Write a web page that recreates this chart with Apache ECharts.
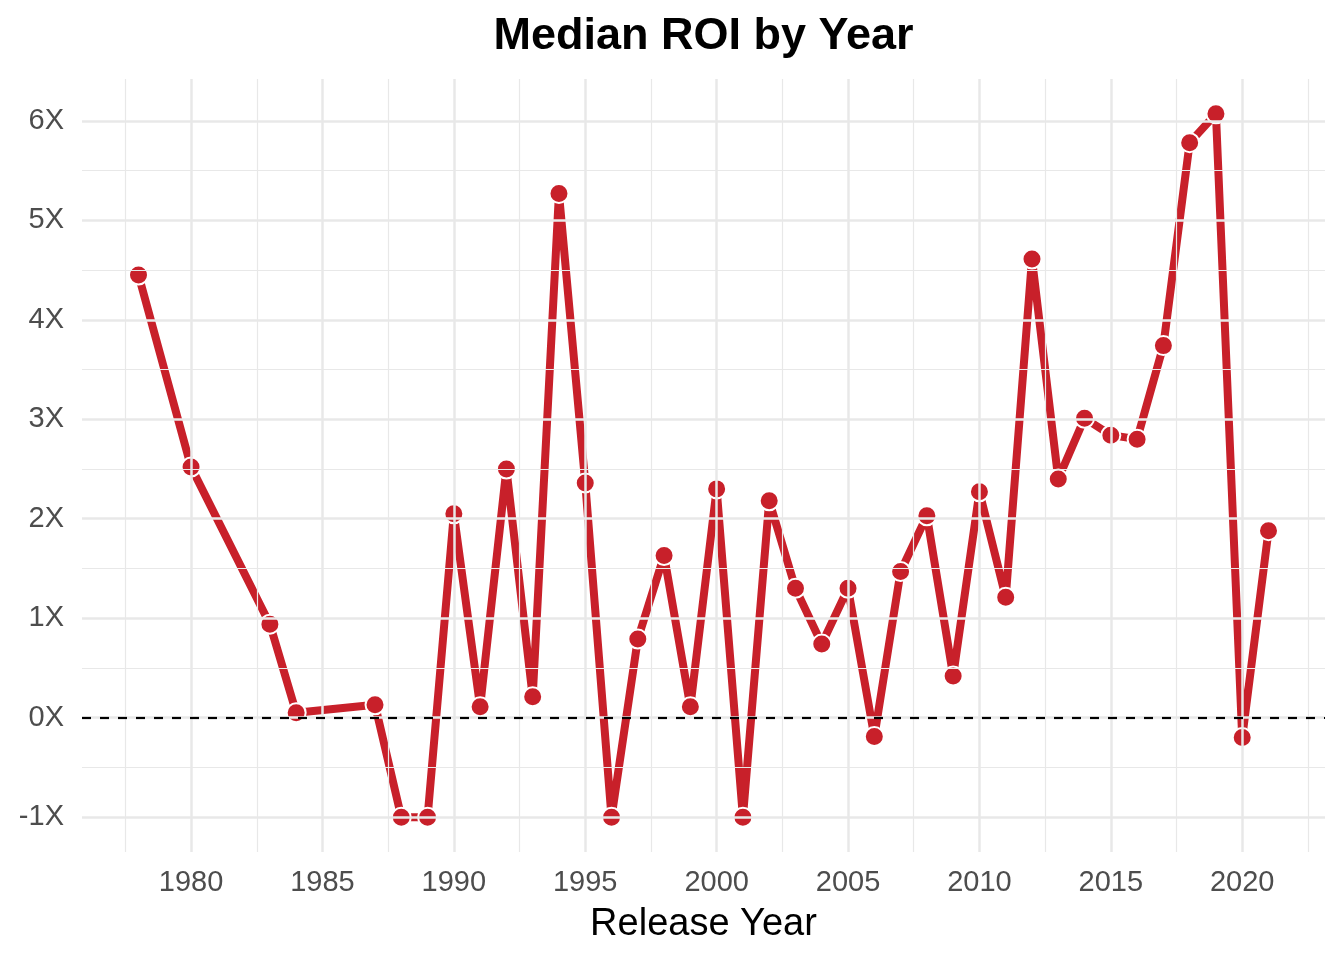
<!DOCTYPE html>
<html>
<head>
<meta charset="utf-8">
<script src="https://cdn.jsdelivr.net/npm/echarts@6/dist/echarts.min.js"></script>
<style>
html,body{margin:0;padding:0;background:#fff;}
#chart{width:1344px;height:960px;}
</style>
</head>
<body>
<div id="chart"></div>
<script>
var years = [1978,1980,1983,1984,1987,1988,1989,1990,1991,1992,1993,1994,1995,1996,1997,1998,1999,2000,2001,2002,2003,2004,2005,2006,2007,2008,2009,2010,2011,2012,2013,2014,2015,2016,2017,2018,2019,2020,2021];
var roi = [4.45,2.52,0.94,0.05,0.13,-1,-1,2.05,0.11,2.50,0.21,5.27,2.36,-1,0.79,1.63,0.11,2.30,-1,2.18,1.30,0.74,1.30,-0.19,1.47,2.03,0.42,2.27,1.21,4.61,2.40,3.01,2.84,2.80,3.74,5.78,6.07,-0.20,1.88];
var xTicks = [1980,1985,1990,1995,2000,2005,2010,2015,2020];
var xMinor = [1977.5,1982.5,1987.5,1992.5,1997.5,2002.5,2007.5,2012.5,2017.5,2022.5];
var yTicks = [-1,0,1,2,3,4,5,6];
var yMinor = [-0.5,0.5,1.5,2.5,3.5,4.5,5.5];

var gridColor = '#e8e8e8';
var red = '#C8202A';
var font = 'Liberation Sans, Arial, sans-serif';

var gridLines = [];
xTicks.forEach(function(v){ gridLines.push({xAxis:v, lineStyle:{color:gridColor,width:2.5,type:'solid'}}); });
xMinor.forEach(function(v){ gridLines.push({xAxis:v, lineStyle:{color:gridColor,width:1.2,type:'solid'}}); });
yTicks.forEach(function(v){ gridLines.push({yAxis:v, lineStyle:{color:gridColor,width:2.5,type:'solid'}}); });
yMinor.forEach(function(v){ gridLines.push({yAxis:v, lineStyle:{color:gridColor,width:1.2,type:'solid'}}); });

var chart = echarts.init(document.getElementById('chart'), null, {renderer:'canvas'});
chart.setOption({
  animation:false,
  backgroundColor:'#fff',
  graphic:[{
    type:'text', x:703.5, y:37,
    style:{text:'Median ROI by Year', fontFamily:font, fontWeight:'bold', fontSize:45, fill:'#000', textAlign:'center', textVerticalAlign:'middle'}
  }],
  grid:{left:82, right:19, top:79, bottom:108, containLabel:false},
  xAxis:{
    type:'value', min:1975.85, max:2023.15,
    axisLine:{show:false}, axisTick:{show:false}, splitLine:{show:false},
    axisLabel:{customValues:xTicks, color:'#4d4d4d', fontSize:29, fontFamily:font, margin:16,
      formatter:function(v){ return String(v); }},
    name:'Release Year', nameLocation:'middle', nameGap:54,
    nameTextStyle:{color:'#000', fontSize:38, fontFamily:font}
  },
  yAxis:{
    type:'value', min:-1.35, max:6.42,
    axisLine:{show:false}, axisTick:{show:false}, splitLine:{show:false},
    axisLabel:{customValues:yTicks, color:'#4d4d4d', fontSize:29, fontFamily:font, margin:18,
      formatter:function(v){ return v + 'X'; }}
  },
  series:[
    {
      type:'line', data:[], z:1, silent:true,
      markLine:{silent:true, symbol:['none','none'], label:{show:false}, data:gridLines, animation:false}
    },
    {
      type:'line', data:[], z:2, silent:true,
      markLine:{silent:true, symbol:['none','none'], label:{show:false},
        data:[{yAxis:0, lineStyle:{color:'#000', width:2.2, type:[9,9]}}], animation:false}
    },
    {
      type:'line', z:3,
      data: years.map(function(y,i){ return [y, roi[i]]; }),
      lineStyle:{color:red, width:8, cap:'round', join:'round'},
      symbol:'circle', symbolSize:19,
      itemStyle:{color:red, borderColor:'#fff', borderWidth:2},
      showAllSymbol:true
    }
  ]
});
</script>
</body>
</html>
